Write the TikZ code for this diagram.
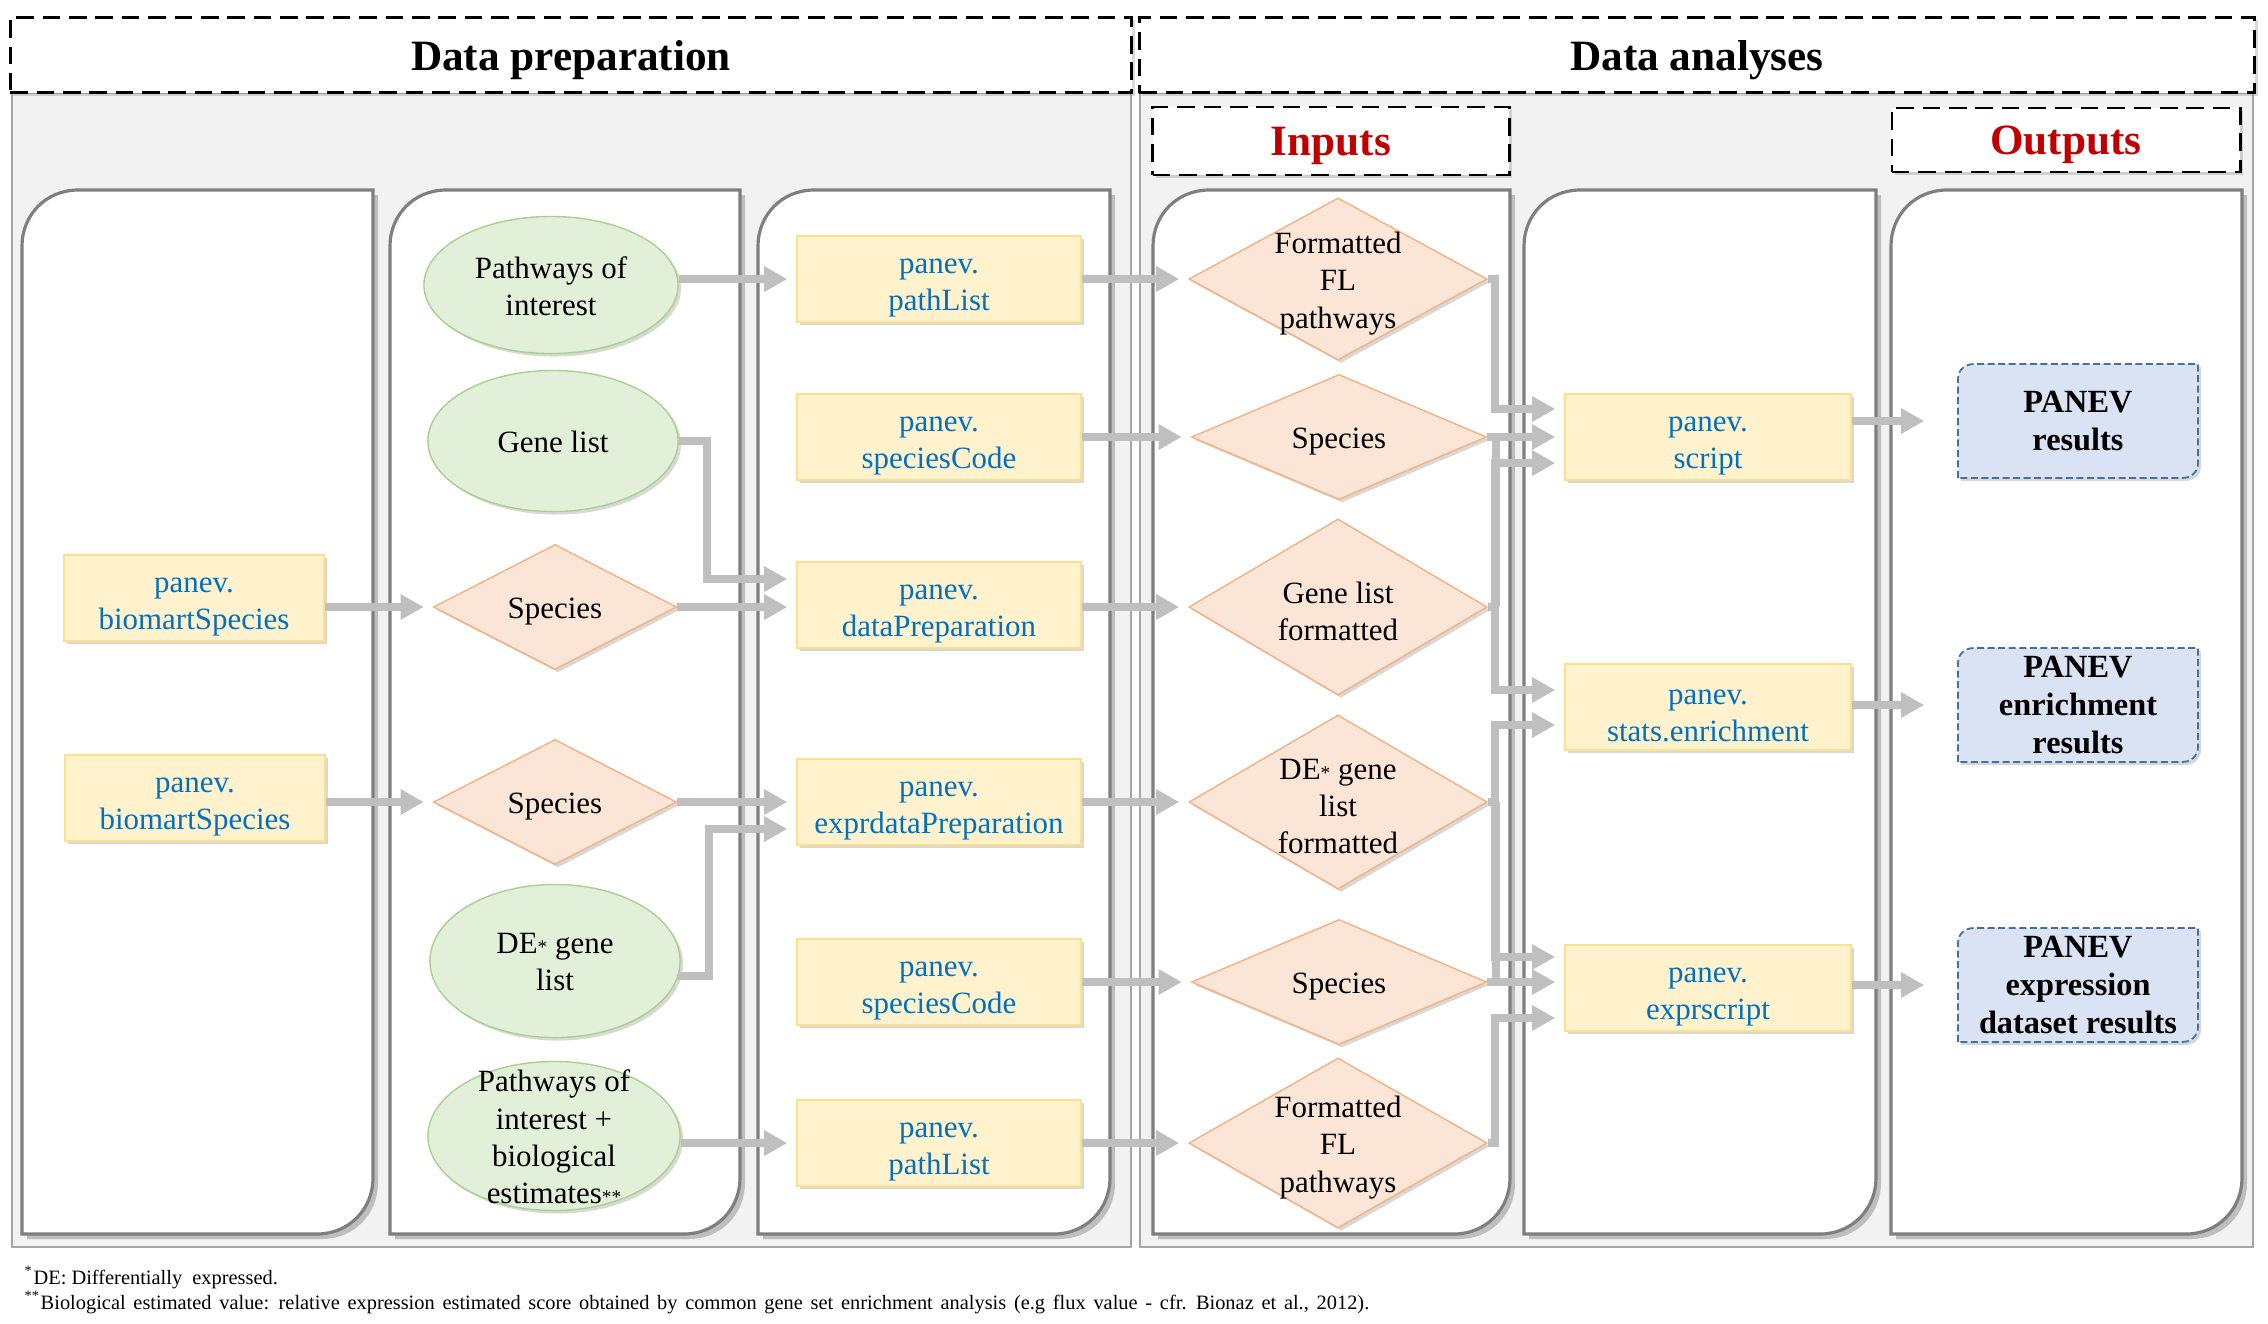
\documentclass[tikz,border=0pt]{standalone}
\usepackage{fontspec}
\setmainfont{Liberation Serif}
\usetikzlibrary{arrows.meta, calc, positioning, shapes.geometric, shadows}

\definecolor{arrowgray}{HTML}{BFBFBF}
\definecolor{panelgray}{HTML}{F2F2F2}
\definecolor{panelline}{HTML}{A6A6A6}
\definecolor{laneline}{HTML}{7F7F7F}
\definecolor{fnblue}{HTML}{0070C0}
\definecolor{titlered}{HTML}{C00000}
\definecolor{boxfill}{HTML}{FFF2CC}
\definecolor{boxline}{HTML}{FFE08A}
\definecolor{ellfill}{HTML}{E2F0D9}
\definecolor{ellline}{HTML}{A9D18E}
\definecolor{diafill}{HTML}{FBE5D6}
\definecolor{dialine}{HTML}{F4B183}
\definecolor{resfill}{HTML}{DAE3F3}
\definecolor{resline}{HTML}{41719C}

\newcommand{\nodefont}{\fontsize{8.8}{10.6}\selectfont}
\newcommand{\titlefont}{\fontsize{12.3}{14.5}\selectfont\bfseries}
\newcommand{\resultfont}{\fontsize{9.2}{10.8}\selectfont\bfseries}
\newcommand{\footfont}{\fontsize{5.8}{7}\selectfont}
\newcommand{\tinystar}[1]{{\fontsize{5.5}{5.5}\selectfont#1}}

\tikzset{
  shdw/.style={drop shadow={shadow xshift=0.03cm, shadow yshift=-0.03cm, opacity=0.3}},
  panel/.style={draw=panelline, fill=panelgray, line width=0.5pt},
  lane/.style={draw=laneline, fill=white, line width=0.9pt, drop shadow={shadow xshift=0.05cm, shadow yshift=-0.05cm, opacity=0.45}},
  header/.style={rectangle, draw=black, fill=white, line width=0.8pt, dash pattern=on 5pt off 2.5pt, font=\titlefont, text depth=0pt, inner sep=0pt, shdw},
  func/.style={rectangle, draw=boxline, fill=boxfill, inner sep=0pt, minimum height=0.86cm, shdw},
  ftxt/.style={font=\nodefont, text=fnblue, align=center, inner sep=0pt, yshift=-0.09cm},
  data/.style={ellipse, draw=ellline, fill=ellfill, inner sep=0pt, shdw},
  param/.style={diamond, draw=dialine, fill=diafill, inner sep=0pt, shdw},
  lbl/.style={font=\nodefont, align=center, inner sep=0pt, yshift=-0.01cm},
  dlbl/.style={lbl, yshift=-0.035cm},
  resultline/.style={draw=resline, fill=resfill, line width=0.5pt, dash pattern=on 2pt off 1pt, shdw},
  result/.style={rectangle, font=\resultfont, align=center, inner sep=0pt, minimum width=2.4cm, minimum height=1.14cm},
  flow/.style={draw=arrowgray, line width=2.3pt, -{Triangle[length=0.23cm,width=0.24cm]}, shorten >=0.09cm},
  bus/.style={draw=arrowgray, line width=2.3pt},
  foot/.style={font=\footfont, inner sep=0pt, anchor=base west}
}

% lane with rounded top-left and bottom-right corners
\newcommand{\swimlane}[2]{%
  \draw[lane] (#1,1234) -- (#1,246) .. controls (#1,215) and ({#1+24},190) .. ({#1+56},190)
    -- (#2,190) -- (#2,1178) .. controls (#2,1209) and ({#2-24},1234) .. ({#2-56},1234) -- cycle;}

% output box with the same corners, and its named node
\newcommand{\resultbox}[4]{%
  \draw[resultline] ({#2-120},{#3+57}) -- ({#2-120},{#3-42})
    .. controls ({#2-120},{#3-52}) and ({#2-112},{#3-57}) .. ({#2-104},{#3-57})
    -- ({#2+120},{#3-57}) -- ({#2+120},{#3+42})
    .. controls ({#2+120},{#3+52}) and ({#2+112},{#3+57}) .. ({#2+104},{#3+57}) -- cycle;
  \node[result] (#1) at (#2,#3) {#4};}

\begin{document}
\begin{tikzpicture}[x=0.01cm, y=-0.01cm]
	\useasboundingbox (0,0) rectangle (2268,1323);

	% panels and headers
	\draw[panel] (12,93) rectangle (1131,1247);
	\draw[panel] (1140,93) rectangle (2253,1247);
	\node[header, minimum width=11.21cm, minimum height=0.75cm] (prep) at (571,55) {Data preparation};
	\node[header, minimum width=11.15cm, minimum height=0.75cm] (anal) at (1697,55) {Data analyses};
	\node[header, text=titlered, minimum width=3.56cm, minimum height=0.68cm] (inp) at (1331,141) {Inputs};
	\node[header, text=titlered, minimum width=3.48cm, minimum height=0.64cm] (outp) at (2066,140) {Outputs};

	\swimlane{22}{373}
	\swimlane{390}{740}
	\swimlane{758}{1110}
	\swimlane{1153}{1510}
	\swimlane{1524}{1876}
	\swimlane{1891}{2242}

	% column 1
	\node[func, minimum width=2.6cm, label={[ftxt]center:panev.\\biomartSpecies}] (bio1) at (194,598) {};
	\node[func, minimum width=2.6cm, label={[ftxt]center:panev.\\biomartSpecies}] (bio2) at (195,798) {};

	% column 2
	\node[data, minimum width=2.54cm, minimum height=1.37cm, label={[lbl]center:Pathways of\\interest}] (poi) at (551,285) {};
	\node[data, minimum width=2.5cm, minimum height=1.41cm, label={[lbl]center:Gene list}] (gl) at (553,441) {};
	\node[param, minimum width=2.43cm, minimum height=1.25cm, label={[dlbl]center:Species}] (sp1) at (555,607) {};
	\node[param, minimum width=2.43cm, minimum height=1.25cm, label={[dlbl]center:Species}] (sp2) at (555,802) {};
	\node[data, minimum width=2.5cm, minimum height=1.53cm, label={[lbl]center:DE\tinystar{*} gene\\list}] (de) at (555,961) {};
	\node[data, minimum width=2.52cm, minimum height=1.49cm, label={[lbl]center:Pathways of\\interest +\\biological\\estimates\tinystar{**}}] (poib) at (554,1136) {};

	% column 3
	\node[func, minimum width=2.84cm, label={[ftxt]center:panev.\\pathList}] (pl1) at (939,279) {};
	\node[func, minimum width=2.84cm, label={[ftxt]center:panev.\\speciesCode}] (sc1) at (939,437) {};
	\node[func, minimum width=2.84cm, label={[ftxt]center:panev.\\dataPreparation}] (dp) at (939,605) {};
	\node[func, minimum width=2.84cm, label={[ftxt]center:panev.\\exprdataPreparation}] (edp) at (939,802) {};
	\node[func, minimum width=2.84cm, label={[ftxt]center:panev.\\speciesCode}] (sc2) at (939,982) {};
	\node[func, minimum width=2.84cm, label={[ftxt]center:panev.\\pathList}] (pl2) at (939,1143) {};

	% column 4
	\node[param, minimum width=2.98cm, minimum height=1.62cm, label={[dlbl]center:Formatted\\FL\\pathways}] (fl1) at (1338,279) {};
	\node[param, minimum width=2.95cm, minimum height=1.25cm, label={[dlbl]center:Species}] (sp4) at (1339,437) {};
	\node[param, minimum width=2.98cm, minimum height=1.76cm, label={[dlbl]center:Gene list\\formatted}] (glf) at (1338,607) {};
	\node[param, minimum width=2.98cm, minimum height=1.74cm, label={[dlbl]center:DE\tinystar{*} gene\\list\\formatted}] (delf) at (1338,802) {};
	\node[param, minimum width=2.95cm, minimum height=1.25cm, label={[dlbl]center:Species}] (sp5) at (1339,982) {};
	\node[param, minimum width=2.98cm, minimum height=1.70cm, label={[dlbl]center:Formatted\\FL\\pathways}] (fl2) at (1338,1143) {};

	% column 5
	\node[func, minimum width=2.86cm, label={[ftxt]center:panev.\\script}] (scr) at (1708,437) {};
	\node[func, minimum width=2.86cm, label={[ftxt]center:panev.\\stats.enrichment}] (st) at (1708,707) {};
	\node[func, minimum width=2.86cm, label={[ftxt]center:panev.\\exprscript}] (exs) at (1708,988) {};

	% column 6
	\resultbox{res1}{2078}{421}{PANEV\\results}
	\resultbox{res2}{2078}{705}{PANEV\\enrichment\\results}
	\resultbox{res3}{2078}{985}{PANEV\\expression\\dataset results}

	% data preparation
	\draw[flow] (bio1.east |- sp1) -- (sp1.west);
	\draw[flow] (bio2.east |- sp2) -- (sp2.west);
	\draw[flow] (poi.east |- pl1) -- (pl1.west);
	\draw[flow] (gl.east) -| ($(dp.west)+(-89,-26)$) -- ($(dp.west)+(0,-26)$);
	\draw[flow] (sp1.east) -- (sp1 -| dp.west);
	\draw[flow] (sp2.east) -- (sp2 -| edp.west);
	\draw[flow] (de.-7) -| ($(edp.west)+(-87,27)$) -- ($(edp.west)+(0,27)$);
	\draw[flow] (poib.east |- pl2) -- (pl2.west);

	% into the inputs
	\draw[flow] (pl1.east) -- (fl1.west);
	\draw[flow] (sc1.east) -- (sp4.west);
	\draw[flow] (dp.east |- glf) -- (glf.west);
	\draw[flow] (edp.east) -- (delf.west);
	\draw[flow] (sc2.east) -- (sp5.west);
	\draw[flow] (pl2.east) -- (fl2.west);

	% inputs to the scripts
	\coordinate (busx) at (1496,0);
	\draw[flow] (fl1.east) -| ($(scr.west)+(-69,-28)$) -- ($(scr.west)+(0,-28)$);
	\draw[flow] (sp4.east) -- (sp4 -| scr.west);
	\draw[bus] (busx |- sp4) -- (busx |- glf);
	\draw[flow] (glf.east) -| ($(scr.west)+(-69,26)$) -- ($(scr.west)+(0,26)$);
	\draw[flow] (glf.east) -| ($(st.west)+(-69,-17)$) -- ($(st.west)+(0,-17)$);
	\draw[flow] (delf.east) -| ($(st.west)+(-69,18)$) -- ($(st.west)+(0,18)$);
	\draw[bus] (busx |- delf) -- (busx |- sp5);
	\draw[flow] (delf.east) -| ($(exs.west)+(-69,-31)$) -- ($(exs.west)+(0,-31)$);
	\draw[flow] (sp5.east) -- (sp5 -| exs.west);
	\draw[flow] (fl2.east) -| ($(exs.west)+(-69,30)$) -- ($(exs.west)+(0,30)$);

	% outputs
	\draw[flow, shorten >=0.33cm] (scr.east |- res1) -- (res1.west);
	\draw[flow, shorten >=0.33cm] (st.east |- res2) -- (res2.west);
	\draw[flow, shorten >=0.33cm] (exs.east |- res3) -- (res3.west);

	% footnotes
	\node[foot] (fn1) at (24,1284) {\textsuperscript{*}DE: Differentially\ \ expressed.};
	\node[foot] (fn2) at (24,1309) {\spaceskip=2.2pt\textsuperscript{**}Biological estimated value: relative expression estimated score obtained by common gene set enrichment analysis (e.g flux value - cfr. Bionaz et al., 2012).};
\end{tikzpicture}
\end{document}
